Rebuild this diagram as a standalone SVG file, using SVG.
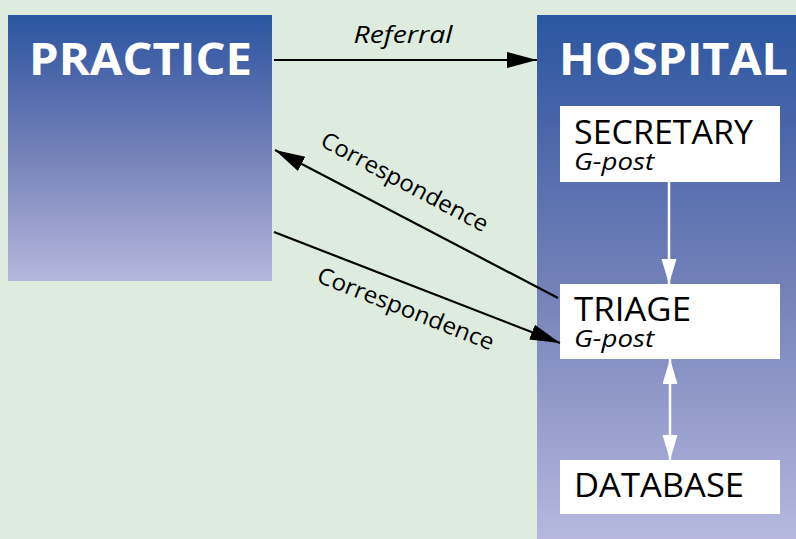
<svg xmlns="http://www.w3.org/2000/svg" width="796" height="539" viewBox="0 0 796 539">
<style>
.big{font-family:"Open Sans","Noto Sans",sans-serif;font-weight:bold;font-size:44px;fill:#ffffff}
.box{fill:#ffffff}
.name{font-family:"Open Sans","Noto Sans",sans-serif;font-size:32px;fill:#000000}
.sub{font-family:"Open Sans","Noto Sans",sans-serif;font-style:italic;font-size:24px;fill:#000000}
.lbl{font-family:"Open Sans","Noto Sans",sans-serif;font-size:23px;fill:#000000}
.lbli{font-family:"Open Sans","Noto Sans",sans-serif;font-style:italic;font-size:23px;fill:#000000}
.blk{stroke:#000000;stroke-width:2.2;fill:none}
.wht{stroke:#ffffff;stroke-width:2.5;fill:none}
</style>
<defs>
<linearGradient id="g" x1="0" y1="0" x2="0" y2="1">
<stop offset="0" stop-color="#2a57a1"/>
<stop offset="0.2" stop-color="#4864a9"/>
<stop offset="0.55" stop-color="#7884ba"/>
<stop offset="1" stop-color="#b6b8de"/>
</linearGradient>
<marker id="ab" markerUnits="userSpaceOnUse" markerWidth="32" markerHeight="18" refX="30" refY="8" orient="auto">
<path d="M0,0 L30,8 L0,16 Z" fill="#000000"/>
</marker>
<marker id="aw" markerUnits="userSpaceOnUse" markerWidth="26" markerHeight="16" refX="25" refY="7.5" orient="auto-start-reverse">
<path d="M0,0 L25,7.5 L0,15 Z" fill="#ffffff"/>
</marker>
</defs>
<rect x="0" y="0" width="796" height="539" fill="#deebdf"/>
<g id="practice">
<rect x="8" y="15" width="264" height="266" fill="url(#g)"/>
<text class="big" x="29" y="75" textLength="223" lengthAdjust="spacingAndGlyphs">PRACTICE</text>
</g>
<g id="hospital">
<rect x="537" y="15" width="259" height="524" fill="url(#g)"/>
<text class="big" x="559" y="75" textLength="229" lengthAdjust="spacingAndGlyphs">HOSPITAL</text>
</g>
<g id="secretary">
<rect class="box" x="560" y="106" width="220" height="76"/>
<text class="name" x="574" y="144" textLength="179" lengthAdjust="spacingAndGlyphs">SECRETARY</text>
<text class="sub" x="574" y="170" textLength="80" lengthAdjust="spacingAndGlyphs">G-post</text>
</g>
<g id="triage">
<rect class="box" x="560" y="284" width="220" height="75"/>
<text class="name" x="574" y="321" textLength="117" lengthAdjust="spacingAndGlyphs">TRIAGE</text>
<text class="sub" x="574" y="347" textLength="80" lengthAdjust="spacingAndGlyphs">G-post</text>
</g>
<g id="database">
<rect class="box" x="560" y="460" width="220" height="54"/>
<text class="name" x="574" y="497" textLength="170" lengthAdjust="spacingAndGlyphs">DATABASE</text>
</g>
<g id="connectors">
<line class="blk" x1="274" y1="60" x2="537" y2="60" marker-end="url(#ab)"/>
<text class="lbli" x="403" y="43" text-anchor="middle" textLength="99" lengthAdjust="spacingAndGlyphs">Referral</text>
<line class="blk" x1="558" y1="298" x2="275" y2="150" marker-end="url(#ab)"/>
<text class="lbl" transform="translate(401,189) rotate(28)" text-anchor="middle" textLength="186" lengthAdjust="spacingAndGlyphs">Correspondence</text>
<line class="blk" x1="274" y1="232" x2="560" y2="343" marker-end="url(#ab)"/>
<text class="lbl" transform="translate(403,316) rotate(21.5)" text-anchor="middle" textLength="188" lengthAdjust="spacingAndGlyphs">Correspondence</text>
<line class="wht" x1="669" y1="182" x2="669" y2="284" marker-end="url(#aw)"/>
<line class="wht" x1="670" y1="359" x2="670" y2="460" marker-start="url(#aw)" marker-end="url(#aw)"/>
</g>
</svg>
